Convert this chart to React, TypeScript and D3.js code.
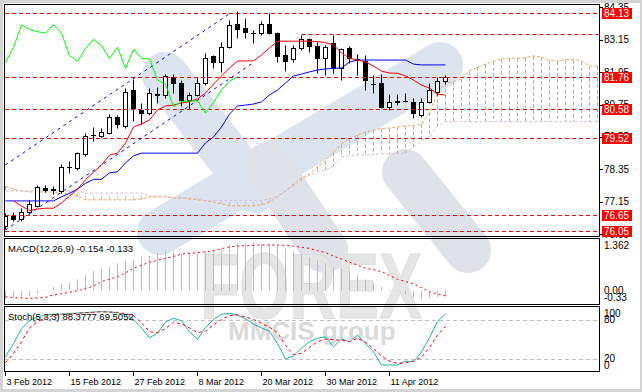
import React from 'react';
import * as d3 from 'd3';

// ---------- DATA ----------
const opens = [76.25,76.63,76.52,76.78,77.00,77.67,77.59,77.55,78.44,78.39,78.91,79.62,79.60,79.71,80.28,79.96,81.29,80.55,80.43,81.12,81.09,81.78,81.54,80.92,81.09,81.54,82.55,82.32,82.89,83.72,83.57,83.42,83.39,83.72,83.39,82.59,82.43,82.83,83.17,82.92,82.46,83.02,82.09,82.83,82.43,82.36,81.50,81.54,80.67,80.86,80.87,80.86,80.36,80.83,81.23,81.62];
const highs = [76.73,76.78,76.91,77.22,77.77,77.77,77.73,78.55,78.67,79.00,79.70,79.92,79.88,80.40,80.36,81.36,81.70,80.80,81.36,81.41,81.88,81.88,81.66,81.23,81.78,82.65,82.59,83.08,83.88,84.22,83.94,83.51,83.85,84.13,83.44,82.96,82.96,83.33,83.23,83.07,82.96,83.33,82.85,82.93,82.62,82.59,81.85,81.87,81.13,81.13,81.17,80.98,80.98,81.54,81.78,81.85];
const lows = [76.14,76.44,76.44,76.70,76.96,77.51,77.44,77.48,78.23,78.33,78.85,79.40,79.55,79.66,79.87,79.88,80.15,80.03,80.36,80.80,80.98,81.17,80.70,80.57,81.07,81.47,82.12,81.97,82.83,83.20,83.20,83.02,83.33,83.35,82.34,81.99,82.34,82.77,82.71,81.92,81.85,81.91,81.66,82.28,81.85,81.29,81.17,80.63,80.55,80.73,80.83,80.24,80.30,80.80,81.10,81.50];
const closes = [76.63,76.51,76.76,77.07,77.71,77.59,77.62,78.43,78.42,78.97,79.60,79.64,79.72,80.30,80.02,81.20,80.61,80.45,81.17,81.15,81.81,81.56,80.92,81.09,81.54,82.46,82.32,82.87,83.70,83.54,83.45,83.40,83.72,83.39,82.56,82.36,82.83,83.17,82.93,82.46,82.87,82.09,82.81,82.46,82.44,81.66,81.51,80.67,80.86,80.88,80.89,80.43,80.83,81.29,81.62,81.78];

const tenkan = [null,77.18,76.99,76.82,76.88,76.91,76.91,77.11,77.36,77.62,77.96,78.25,78.51,78.88,78.95,79.33,79.92,80.03,80.18,80.55,80.70,80.73,80.81,80.86,80.96,81.18,81.51,81.81,82.11,82.36,82.37,82.37,82.59,82.85,83.10,83.10,83.10,83.10,83.10,83.08,83.05,82.96,82.66,82.47,82.40,82.33,82.18,81.99,81.92,81.91,81.81,81.66,81.47,81.36,81.14,81.10];
const kijun = [77.18,77.18,77.18,77.18,77.18,77.18,77.18,77.33,77.46,77.62,77.83,77.98,77.98,78.22,78.26,78.59,78.85,78.95,78.95,78.95,78.95,78.95,78.95,78.95,78.95,79.33,79.55,79.92,80.40,80.70,80.73,80.77,80.85,81.11,81.29,81.55,81.81,81.88,81.96,82.03,82.07,82.09,82.11,82.33,82.40,82.40,82.40,82.40,82.40,82.40,82.40,82.25,82.22,82.22,82.22,82.22];
const senkouA = [77.73,77.62,77.55,77.51,77.51,77.51,77.51,77.47,77.44,77.36,77.22,77.22,77.22,77.22,77.22,77.22,77.22,77.25,77.33,77.33,77.33,77.29,77.29,77.25,77.22,77.18,77.14,77.07,77.00,77.00,77.00,77.00,77.03,77.14,77.33,77.55,77.81,78.03,78.18,78.44,78.66,78.99,79.29,79.48,79.62,79.73,79.81,79.86,79.88,79.92,79.96,79.97,80.03,80.47,81.18,81.55,81.60,81.70,81.99,82.14,82.25,82.36,82.44,82.46,82.47,82.49,82.55,82.51,82.38,82.36,82.42,82.42,82.36,82.18,82.18];
const senkouB = [77.55,77.55,77.55,77.55,77.55,77.55,77.55,77.55,77.55,77.55,77.47,77.47,77.47,77.47,77.47,77.47,77.47,77.47,77.36,77.36,77.36,77.29,77.29,77.29,77.29,77.20,77.20,77.20,77.20,77.20,77.20,77.20,77.20,77.25,77.36,77.55,77.73,77.92,78.14,78.25,78.33,78.47,78.81,78.85,78.88,78.88,78.90,78.92,78.92,78.94,78.95,79.18,79.40,79.55,79.96,80.12,80.12,80.12,80.12,80.12,80.12,80.12,80.12,80.12,80.12,80.12,80.12,80.12,80.12,80.12,80.12,80.12,80.12,80.12,80.12];

const macd = [-0.22,-0.20,-0.18,-0.15,-0.08,0.02,0.10,0.17,0.22,0.30,0.41,0.52,0.56,0.63,0.72,0.78,0.81,0.88,0.91,0.98,1.05,1.02,1.00,1.00,0.98,1.02,1.09,1.11,1.20,1.23,1.24,1.26,1.24,1.23,1.20,1.09,1.05,0.96,0.88,0.81,0.72,0.60,0.58,0.50,0.40,0.30,0.20,0.10,0.03,-0.02,-0.09,-0.18,-0.22,-0.19,-0.16,-0.154];
const macdSignal = [-0.16,-0.18,-0.19,-0.20,-0.19,-0.17,-0.11,-0.08,-0.04,0.00,0.06,0.12,0.24,0.30,0.37,0.47,0.59,0.67,0.75,0.80,0.85,0.90,0.96,0.98,1.00,1.02,1.05,1.10,1.15,1.17,1.18,1.19,1.20,1.20,1.20,1.19,1.17,1.14,1.11,1.05,1.00,0.91,0.83,0.75,0.67,0.59,0.55,0.50,0.40,0.30,0.24,0.18,0.08,-0.03,-0.08,-0.133];

const stochMain = [23,43,66,78,84,87,88,88.5,89,90,90.5,91.5,92,91.5,90.5,87,80,67,52,59,76,82,78,61,49.5,68,80,88,89.5,87,81,73,67,62,43,19,24,36,46,51,53.5,38,50,46,56,43,30,10,10,10,16,15,30,52,77,88.38];
const stochSignal = [13.5,28,46,67,77,83,86,88,88.5,89.5,90.5,91,92,91.5,91,89,86,75,61,60,66,76,73,67,60,62,72,80,86,87,84,80,74,68,60,40,26,28,37,46,50,49,48,46,51,45,35,24,16,12.6,13.5,16,22,37,56,69.5];

const levelLines = [84.13, 81.76, 80.58, 79.52, 76.65, 76.05];
const partialLevel = { value: 83.35, fromIndex: 37 };
const channelUpper = [[0, 78.51], [28.1, 84.13]];
const channelLower = [[0, 76.10], [31, 82.30]];
const priceTicks = [84.35, 83.15, 81.95, 80.75, 79.55, 78.35, 77.15, 75.95];
const timeLabels = ['3 Feb 2012', '15 Feb 2012', '27 Feb 2012', '8 Mar 2012', '20 Mar 2012', '30 Mar 2012', '11 Apr 2012'];
const timeLabelIndex = [0, 8, 16, 24, 32, 40, 48];
const chikouShift = 26;

// ---------- COMPONENT ----------
const FONT = '"Liberation Sans", Arial, sans-serif';

export default function App() {
  const x = d3.scaleLinear().domain([0, 74]).range([5.3, 597.3]);
  const yP = d3.scaleLinear().domain([75.88, 84.44]).range([236, 5]);
  const yM = d3.scaleLinear().domain([-0.33, 1.362]).range([303.3, 238.8]);
  const yS = d3.scaleLinear().domain([0, 100]).range([371.5, 306.5]);
  const cx = (i: number) => Math.round(x(i)) + 0.5;
  const sn = (v: number) => Math.round(v) + 0.5;

  const lineP = d3.line<any>().defined((d) => d != null).x((_d, i) => cx(i)).y((d) => yP(d));
  const chikou = closes.slice(chikouShift);
  const lineM = d3.line<number>().x((_d, i) => cx(i)).y((d) => yM(d));
  const lineS = d3.line<number>().x((_d, i) => cx(i)).y((d) => yS(d));

  const panelW = 595;

  return (
    <svg width={642} height={392} style={{ position: 'absolute', left: 0, top: 0, fontFamily: FONT }}>
      <defs>
        <clipPath id="cpMain"><rect x={5} y={5} width={594} height={231} /></clipPath>
        <clipPath id="cpMacd"><rect x={5} y={239} width={594} height={65} /></clipPath>
        <clipPath id="cpSto"><rect x={5} y={307} width={594} height={64} /></clipPath>
      </defs>
      <rect x={0} y={0} width={642} height={392} fill="#d4d4d4" />
      <rect x={3} y={3} width={637} height={386} fill="#ffffff" />

      {/* watermark */}
      <g strokeLinecap="round" fill="none">
        <path d="M165,75 L255,190" stroke="#dce5ef" strokeWidth={46} />
        <path d="M160,232 L440,65" stroke="#dce5ef" strokeWidth={46} />
        <path d="M268,165 L325,250" stroke="#e0e2ea" strokeWidth={46} />
        <path d="M405,172 L468,250" stroke="#e0e2ea" strokeWidth={46} />
      </g>
      <text x={200} y={318} fontSize={92} fontWeight="bold" fill="#e6e6e6" stroke="#dcdcdc" strokeWidth={1} textLength={222} lengthAdjust="spacingAndGlyphs" fontFamily={FONT}>FOREX</text>
      <text x={228} y={340} fontSize={26} fontWeight="bold" fill="#dadada" fontFamily={FONT}>MMCIS group</text>

      {/* main panel */}
      <g clipPath="url(#cpMain)">
        {senkouA.map((a, k) => (
          <line key={'h' + k} x1={cx(k)} x2={cx(k)} y1={yP(a)} y2={yP(senkouB[k])}
            stroke={a >= senkouB[k] ? '#f4a460' : '#d8bfd8'} strokeDasharray="4,2" />
        ))}
        <path d={lineP(senkouA) || ''} fill="none" stroke="#f4a460" strokeDasharray="3,2" />
        <path d={lineP(senkouB) || ''} fill="none" stroke="#d8bfd8" strokeDasharray="3,2" />

        {opens.map((o, i) => {
          const c = closes[i];
          const X = cx(i);
          const yo = sn(yP(o)), yc = sn(yP(c));
          const top = Math.min(yo, yc), bot = Math.max(yo, yc);
          return (
            <g key={'c' + i}>
              <line x1={X} x2={X} y1={sn(yP(highs[i]))} y2={sn(yP(lows[i]))} stroke="#000" />
              {bot - top < 1 ? (
                <line x1={X - 2.5} x2={X + 2.5} y1={top} y2={top} stroke="#000" />
              ) : (
                <rect x={X - 2} y={top} width={4} height={bot - top} fill={c >= o ? '#fff' : '#000'} stroke="#000" />
              )}
            </g>
          );
        })}

        {levelLines.map((v) => (
          <line key={'l' + v} x1={5} x2={599} y1={sn(yP(v))} y2={sn(yP(v))} stroke="#ff0000" strokeDasharray="4,3" />
        ))}
        <line x1={cx(partialLevel.fromIndex)} x2={599} y1={sn(yP(partialLevel.value))} y2={sn(yP(partialLevel.value))} stroke="#ff0000" strokeDasharray="4,3" />

        {[channelUpper, channelLower].map((ch, j) => (
          <line key={'ch' + j} x1={x(ch[0][0])} y1={yP(ch[0][1])} x2={x(ch[1][0])} y2={yP(ch[1][1])} stroke="#0000ff" strokeDasharray="3,4" />
        ))}

        <path d={lineP(kijun) || ''} fill="none" stroke="#0000ff" />
        <path d={lineP(tenkan) || ''} fill="none" stroke="#ff0000" />
        <path d={lineP(chikou) || ''} fill="none" stroke="#00ff00" />
      </g>

      {/* MACD */}
      <g clipPath="url(#cpMacd)">
        {macd.map((v, i) => (
          <line key={'m' + i} x1={cx(i)} x2={cx(i)} y1={yM(0)} y2={yM(v)} stroke="#bcbcbc" />
        ))}
        <path d={lineM(macdSignal) || ''} fill="none" stroke="#ff0000" strokeDasharray="2,3" />
      </g>
      <text x={8} y={252} fontSize={9.5} fill="#000">MACD(12,26,9) -0.154 -0.133</text>

      {/* Stoch */}
      <g clipPath="url(#cpSto)">
        {[20, 80].map((v) => (
          <line key={'sl' + v} x1={5} x2={599} y1={sn(yS(v))} y2={sn(yS(v))} stroke="#c0c0c0" strokeDasharray="4,3" />
        ))}
        <path d={lineS(stochMain) || ''} fill="none" stroke="#20b2aa" />
        <path d={lineS(stochSignal) || ''} fill="none" stroke="#ff0000" strokeDasharray="3,3" />
      </g>
      <text x={8} y={320} fontSize={9.5} fill="#000">Stoch(5,3,3) 88.3777 69.5052</text>

      {/* panel frames */}
      <rect x={4.5} y={4.5} width={panelW} height={232} fill="none" stroke="#000" />
      <rect x={4.5} y={238.5} width={panelW} height={66} fill="none" stroke="#000" />
      <rect x={4.5} y={306.5} width={panelW} height={65} fill="none" stroke="#000" />

      {/* price axis */}
      {priceTicks.map((v) => (
        <g key={'pt' + v}>
          <line x1={599} x2={603} y1={sn(yP(v))} y2={sn(yP(v))} stroke="#000" />
          <text x={604} y={yP(v) + 3.5} fontSize={10} fill="#000">{v.toFixed(2)}</text>
        </g>
      ))}
      {levelLines.map((v) => (
        <g key={'lb' + v}>
          <rect x={602} y={Math.round(yP(v)) - 5} width={30} height={11} fill="#ff0000" />
          <text x={604} y={yP(v) + 4} fontSize={10} fill="#fff">{v.toFixed(2)}</text>
        </g>
      ))}

      <text x={604} y={249} fontSize={10}>1.362</text>
      <text x={604} y={294} fontSize={10}>0.00</text>
      <text x={604} y={301} fontSize={10}>-0.33</text>
      <text x={604} y={317} fontSize={10}>100</text>
      <text x={604} y={323} fontSize={10}>80</text>
      <text x={604} y={362} fontSize={10}>20</text>
      <text x={604} y={369} fontSize={10}>0</text>

      {timeLabelIndex.map((idx, j) => (
        <g key={'tl' + j}>
          <line x1={cx(idx)} x2={cx(idx)} y1={372} y2={376} stroke="#000" />
          <text x={cx(idx) + 1} y={385} fontSize={9} fill="#000">{timeLabels[j]}</text>
        </g>
      ))}
    </svg>
  );
}
